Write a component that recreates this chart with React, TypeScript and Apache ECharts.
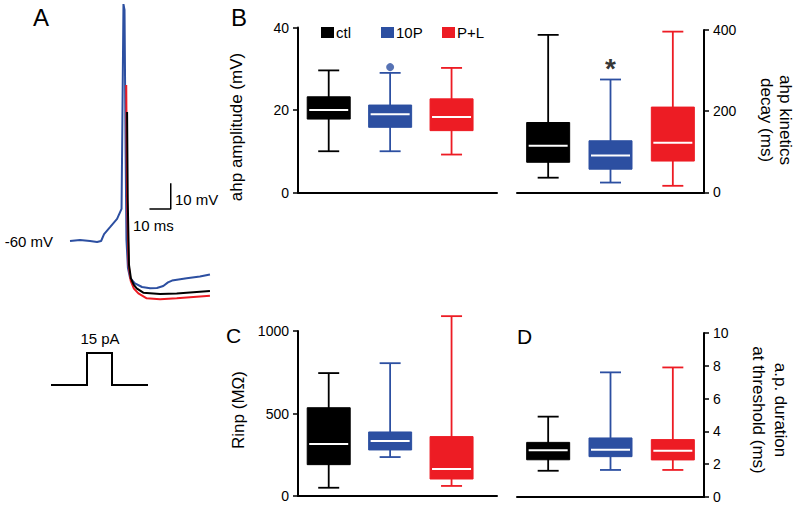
import { useEffect, useRef } from "react";
import * as echarts from "echarts";

const FONT = "'Liberation Sans', Arial, Helvetica, sans-serif";

const groups = ["ctl", "10P", "P+L"];
const groupColors = ["#000000", "#2c4fa1", "#ed1c24"];
const groupPositions = [1, 2, 3];

// box values: [min, Q1, median, Q3, max]
const ahpAmplitude = [
  [10, 17.8, 20, 23.2, 29.6],
  [10, 15.8, 19, 21.2, 29],
  [9.2, 15, 18.3, 22.7, 30.2],
];
const ahpAmplitudeOutliers = [[2, 30.4]];

const ahpDecay = [
  [36, 74, 115, 172, 388],
  [24, 57, 91, 127, 278],
  [16, 77, 122, 210, 396],
];
const decaySignificance = [[2, 305]];

const rinp = [
  [50, 190, 315, 535, 745],
  [236, 279, 333, 388, 805],
  [61, 103, 164, 360, 1090],
];

const apDuration = [
  [1.6, 2.27, 2.85, 3.33, 4.9],
  [1.65, 2.46, 2.88, 3.6, 7.6],
  [1.65, 2.26, 2.82, 3.5, 7.9],
];

// voltage traces: [time (ms), membrane potential (mV)]
const trace10P = [
  [0, -60], [4.7, -59.6], [9.4, -60], [12.7, -60.4], [14.6, -60], [16, -57.3],
  [18.8, -54.6], [22.1, -51.4], [24.2, -47.5], [24.6, -12.9], [25.1, 32.2],
  [25.6, 29.9], [26.1, -24.6], [26.5, -59.6], [27.2, -70.5], [28.2, -74.4],
  [30.5, -76.5], [33.8, -77.9], [37.6, -78.4], [40.8, -78.3], [43.8, -77.5],
  [46, -76.1], [47.9, -75.4], [54.8, -74.5], [61, -73.8], [65.7, -73],
];
const tracePL = [
  [26.4, 0.7], [26.8, -44], [27.5, -69.3], [28.5, -75.5], [30, -78.5],
  [32.1, -80.4], [36, -82.3], [42.3, -82.7], [50.1, -82.3], [65.7, -81.3],
];
const traceCtl = [
  [26.8, -9.8], [27.1, -44], [27.7, -69.3], [28.6, -74.5], [29.9, -77],
  [31.3, -78.4], [34.4, -80.1], [42.3, -80.6], [50.1, -80.4], [65.7, -79.5],
];
// scale bar: 10 ms x 10 mV
const scaleBar = [[37.3, -47.5], [47.3, -47.5], [47.3, -37.5]];

const boxGrids = [
  { left: 298, top: 27.5, width: 199, height: 165, min: 0, max: 40, interval: 20, pos: "left", xmax: 3.74 },
  { left: 517, top: 30, width: 187, height: 162.3, min: 0, max: 400, interval: 200, pos: "right", xmax: 3.5 },
  { left: 298, top: 331, width: 199, height: 165, min: 0, max: 1000, interval: 500, pos: "left", xmax: 3.74 },
  { left: 517, top: 333, width: 187, height: 164, min: 0, max: 10, interval: 2, pos: "right", xmax: 3.5 },
];
const panelData = [ahpAmplitude, ahpDecay, rinp, apDuration];

function boxSeries(gi: number, k: number, values: number[]) {
  const color = groupColors[k];
  return {
    type: "custom",
    name: groups[k],
    xAxisIndex: gi + 1,
    yAxisIndex: gi + 1,
    itemStyle: { color },
    data: [[groupPositions[k], ...values]],
    encode: { x: 0, y: [1, 2, 3, 4, 5] },
    renderItem: (params: any, api: any) => {
      const x = api.value(0);
      const c = (v: number) => api.coord([x, v]);
      const [cx, yMin] = c(api.value(1));
      const yQ1 = c(api.value(2))[1];
      const yMed = c(api.value(3))[1];
      const yQ3 = c(api.value(4))[1];
      const yMax = c(api.value(5))[1];
      const bw = 43;
      const cw = 21;
      const ls = { stroke: color, lineWidth: 1.8 };
      return {
        type: "group",
        children: [
          { type: "line", shape: { x1: cx, y1: yMin, x2: cx, y2: yMax }, style: ls },
          { type: "line", shape: { x1: cx - cw / 2, y1: yMin, x2: cx + cw / 2, y2: yMin }, style: ls },
          { type: "line", shape: { x1: cx - cw / 2, y1: yMax, x2: cx + cw / 2, y2: yMax }, style: ls },
          {
            type: "rect",
            shape: { x: cx - bw / 2, y: yQ3, width: bw, height: yQ1 - yQ3 },
            style: { fill: color, stroke: color, lineWidth: 1 },
          },
          {
            type: "line",
            shape: { x1: cx - bw / 2 + 2, y1: yMed, x2: cx + bw / 2 - 2, y2: yMed },
            style: { stroke: "#ffffff", lineWidth: 2 },
          },
        ],
      };
    },
  };
}

export default function App() {
  const ref = useRef<HTMLDivElement>(null);
  useEffect(() => {
    if (!ref.current) return;
    const chart = echarts.init(ref.current, undefined, { renderer: "svg" });

    const grids: any[] = [{ left: 6.1, top: 4.6, width: 213, height: 339.2 }];
    const xAxes: any[] = [{ type: "value", gridIndex: 0, min: -30, max: 70, show: false }];
    const yAxes: any[] = [{ type: "value", gridIndex: 0, min: -100, max: 32, show: false }];
    boxGrids.forEach((g, i) => {
      grids.push({ left: g.left, top: g.top, width: g.width, height: g.height });
      xAxes.push({
        type: "value",
        gridIndex: i + 1,
        min: 0.5,
        max: g.xmax,
        axisLine: { show: true, lineStyle: { color: "#000", width: 2 } },
        axisTick: { show: false },
        axisLabel: { show: false },
        splitLine: { show: false },
      });
      yAxes.push({
        type: "value",
        gridIndex: i + 1,
        position: g.pos,
        min: g.min,
        max: g.max,
        interval: g.interval,
        axisLine: { show: true, lineStyle: { color: "#000", width: 2 } },
        axisTick: { show: true, length: 5, lineStyle: { color: "#000", width: 1.5 } },
        axisLabel: {
          color: "#000", fontSize: 14, fontFamily: FONT, margin: 9,
          formatter: (v: number) => String(v),
        },
        splitLine: { show: false },
      });
    });

    const series: any[] = [
      {
        type: "line", name: "10P trace", xAxisIndex: 0, yAxisIndex: 0, data: trace10P,
        showSymbol: false, lineStyle: { color: groupColors[1], width: 2 }, itemStyle: { color: groupColors[1] },
      },
      {
        type: "line", name: "P+L trace", xAxisIndex: 0, yAxisIndex: 0, data: tracePL,
        showSymbol: false, lineStyle: { color: groupColors[2], width: 2 }, itemStyle: { color: groupColors[2] },
      },
      {
        type: "line", name: "ctl trace", xAxisIndex: 0, yAxisIndex: 0, data: traceCtl,
        showSymbol: false, lineStyle: { color: groupColors[0], width: 2 }, itemStyle: { color: groupColors[0] },
      },
      {
        type: "line", name: "scale", xAxisIndex: 0, yAxisIndex: 0, data: scaleBar,
        showSymbol: false, lineStyle: { color: "#000", width: 1.5 },
      },
    ];
    panelData.forEach((pd, gi) => {
      pd.forEach((vals, k) => series.push(boxSeries(gi, k, vals)));
    });
    series.push({
      type: "scatter", name: "10P", xAxisIndex: 1, yAxisIndex: 1, data: ahpAmplitudeOutliers,
      symbol: "circle", symbolSize: 8, itemStyle: { color: groupColors[1] },
    });
    series.push({
      type: "scatter", name: "significance", xAxisIndex: 2, yAxisIndex: 2, data: decaySignificance,
      symbolSize: 0.1, itemStyle: { color: "transparent" },
      label: {
        show: true, position: "inside", formatter: "*", color: "#000",
        fontSize: 28, fontWeight: "bold", fontFamily: FONT,
      },
    });

    const legendLefts = [321, 381, 442];
    const legends = groups.map((g, k) => ({
      data: [g],
      left: legendLefts[k],
      top: 25,
      itemWidth: 13,
      itemHeight: 11,
      icon: "rect",
      selectedMode: false,
      padding: 0,
      textStyle: { color: "#000", fontSize: 15, fontFamily: FONT, padding: [0, 0, 0, -3] },
    }));

    const txt = (text: string, x: number, y: number, size: number, align = "left") => ({
      type: "text",
      x,
      y,
      style: { text, fill: "#000", fontSize: size, fontFamily: FONT, align, verticalAlign: "middle" },
    });

    chart.setOption({
      animation: false,
      backgroundColor: "#ffffff",
      grid: grids,
      xAxis: xAxes,
      yAxis: yAxes,
      legend: legends,
      series,
      graphic: [
        txt("A", 33, 17, 24),
        txt("B", 231, 17, 24),
        txt("C", 226, 335, 21),
        txt("D", 517, 336, 21),
        txt("-60 mV", 53, 241, 15, "right"),
        txt("10 mV", 175, 199, 15),
        txt("10 ms", 133, 225, 15),
        txt("15 pA", 100, 338, 15, "center"),
        {
          type: "polyline",
          shape: { points: [[51, 385], [87, 385], [87, 353], [112, 353], [112, 385], [148, 385]] },
          style: { stroke: "#000", lineWidth: 2, fill: null },
        },
        {
          type: "text", x: 236, y: 127, rotation: Math.PI / 2,
          style: { text: "ahp amplitude (mV)", fill: "#000", fontSize: 17, fontFamily: FONT, align: "center", verticalAlign: "middle" },
        },
        {
          type: "text", x: 238, y: 410, rotation: Math.PI / 2,
          style: { text: "Rinp (MΩ)", fill: "#000", fontSize: 17, fontFamily: FONT, align: "center", verticalAlign: "middle" },
        },
        {
          type: "text", x: 776, y: 120, rotation: -Math.PI / 2,
          style: { text: "ahp kinetics\ndecay (ms)", fill: "#000", fontSize: 17, lineHeight: 19, fontFamily: FONT, align: "center", verticalAlign: "middle" },
        },
        {
          type: "text", x: 769, y: 410, rotation: -Math.PI / 2,
          style: { text: "a.p. duration\nat threshold (ms)", fill: "#000", fontSize: 17, lineHeight: 22, fontFamily: FONT, align: "center", verticalAlign: "middle" },
        },
      ],
    });
    return () => chart.dispose();
  }, []);
  return (
    <div
      ref={ref}
      style={{ position: "fixed", left: 0, top: 0, width: 800, height: 510, background: "#fff" }}
    />
  );
}
